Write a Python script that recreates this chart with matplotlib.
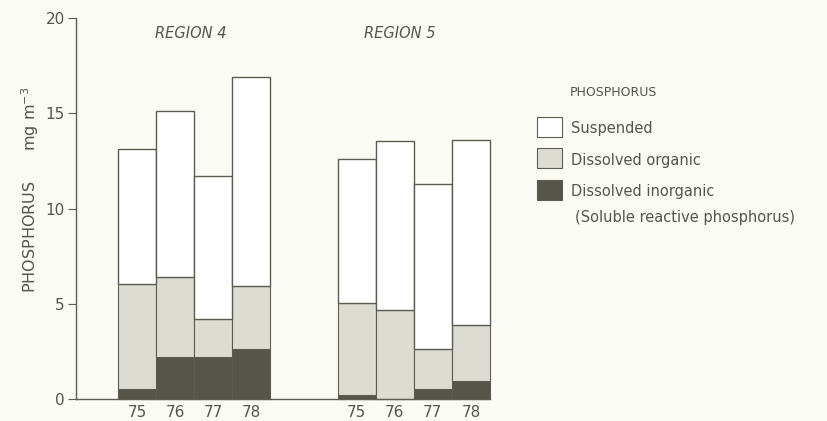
import matplotlib
matplotlib.use("Agg")
import matplotlib.pyplot as plt
from matplotlib.patches import Rectangle
import numpy as np

# values (mg m-3)
years = ["75", "76", "77", "78"]
regions = ["REGION 4", "REGION 5"]
inorganic_r4 = [0.55, 2.2, 2.2, 2.6]
organic_r4 = [5.5, 4.2, 2.0, 3.35]       # dissolved organic layer
suspended_r4 = [7.05, 8.7, 7.5, 10.95]
inorganic_r5 = [0.2, 0.0, 0.55, 0.95]
organic_r5 = [4.85, 4.65, 2.1, 2.95]
suspended_r5 = [7.55, 8.9, 8.65, 9.7]

BG = "#fbfbf5"
EDGE = "#5c5c50"
TXT = "#55554c"
LIGHT = "#dcdcd3"
DARK = "#55554a"

W, H = 827, 421
fig = plt.figure(figsize=(W / 100, H / 100), dpi=100, facecolor=BG)
ax = fig.add_axes([76 / W, 1 - 399 / H, (490 - 76) / W, (399 - 18) / H])
ax.set_facecolor(BG)

x4 = np.arange(4) + 1.6
x5 = np.arange(4) + 7.36
for xs, inorg, org, susp in [(x4, inorganic_r4, organic_r4, suspended_r4),
                             (x5, inorganic_r5, organic_r5, suspended_r5)]:
    inorg = np.array(inorg)
    org = np.array(org)
    ax.bar(xs, inorg, width=1.0, color=DARK, edgecolor=EDGE, linewidth=0.8, clip_on=False)
    ax.bar(xs, org, width=1.0, bottom=inorg, color=LIGHT, edgecolor=EDGE,
           linewidth=0.8, clip_on=False)
    ax.bar(xs, susp, width=1.0, bottom=inorg + org, color="white", edgecolor=EDGE,
           linewidth=1.0, clip_on=False)

ax.set_xlim(0, 10.86)
ax.set_ylim(0, 20)
ax.set_yticks([0, 5, 10, 15, 20])
ax.set_xticks(list(x4) + list(x5))
ax.set_xticklabels(years + years)
for s in ["top", "right"]:
    ax.spines[s].set_visible(False)
for s in ["left", "bottom"]:
    ax.spines[s].set_color(EDGE)
    ax.spines[s].set_linewidth(1.0)
ax.tick_params(axis="y", direction="out", length=6, color=EDGE, labelcolor=TXT,
               labelsize=11, pad=2)
ax.tick_params(axis="x", length=0, labelcolor=TXT, labelsize=11, pad=4)

fig.text(30 / W, 1 - 190 / H, "PHOSPHORUS      mg m$^{-3}$", rotation=90,
         ha="center", va="center", fontsize=11.5, color=TXT)

fig.text(191 / W, 1 - 33 / H, regions[0], style="italic", ha="center", va="center",
         fontsize=10.5, color=TXT)
fig.text(400 / W, 1 - 33 / H, regions[1], style="italic", ha="center", va="center",
         fontsize=10.5, color=TXT)

# legend
fig.text(570 / W, 1 - 92 / H, "PHOSPHORUS", ha="left", va="center", fontsize=9, color=TXT)
legend_items = [("Suspended", "white", 127),
                ("Dissolved organic", LIGHT, 158),
                ("Dissolved inorganic", DARK, 190)]
for label, col, yc in legend_items:
    fig.add_artist(Rectangle((537 / W, 1 - (yc + 10) / H), 25 / W, 20 / H,
                             transform=fig.transFigure, facecolor=col,
                             edgecolor=EDGE, linewidth=0.8))
    fig.text(571 / W, 1 - (yc + 2) / H, label, ha="left", va="center",
             fontsize=10.5, color=TXT)
fig.text(575 / W, 1 - 218 / H, "(Soluble reactive phosphorus)", ha="left",
         va="center", fontsize=10.5, color=TXT)

fig.savefig("out.png", dpi=100, facecolor=BG)
